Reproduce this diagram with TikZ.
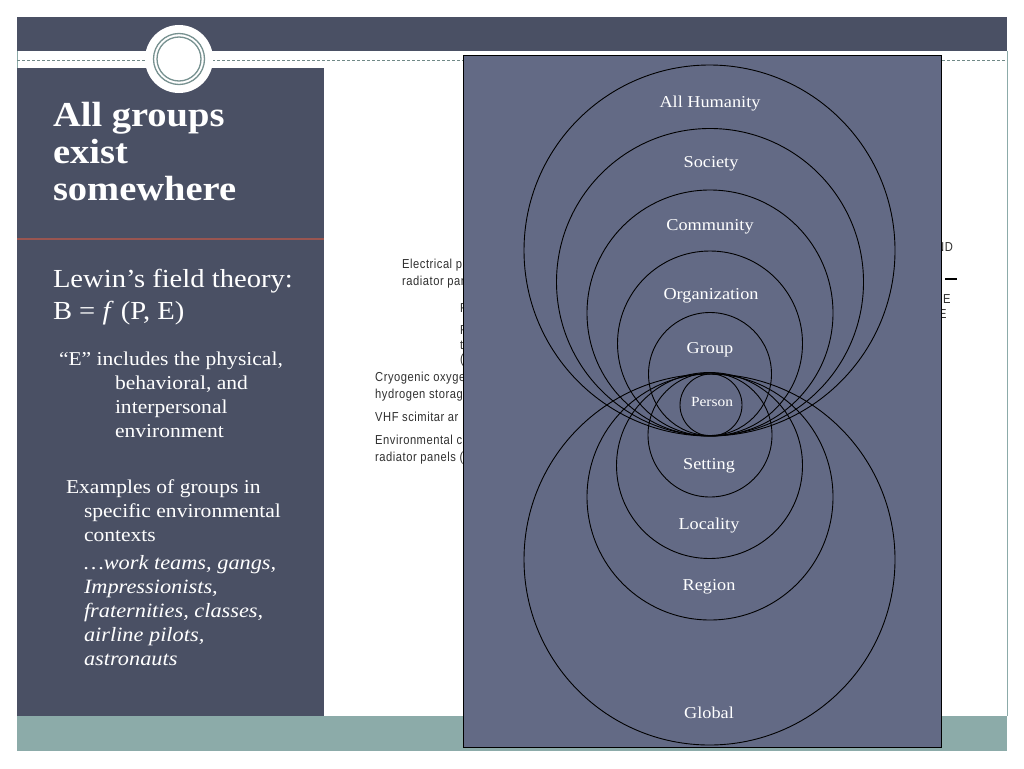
\documentclass[tikz,border=0pt]{standalone}
\usepackage{fontspec}
\setmainfont{Liberation Serif}[FakeStretch=1.1]
\newfontfamily\scanfont{Liberation Sans}[FakeStretch=0.86,LetterSpace=4]
\definecolor{darkslate}{HTML}{4A5064}
\definecolor{panelblue}{HTML}{636A85}
\definecolor{tealband}{HTML}{8CABA9}
\definecolor{redline}{HTML}{9A5550}
\definecolor{scanink}{HTML}{303030}
\newcommand{\fs}[1]{\fontsize{#1}{#1}\selectfont}
\tikzset{
  x=1pt,y=-1pt,
  band/.style={fill=darkslate,draw=none},
  ring/.style={draw=black,line width=0.9pt,fill=none},
  lefttext/.style={anchor=base west,text=white,inner sep=0pt,outer sep=0pt},
  titletext/.style={lefttext,font=\fs{35}\bfseries},
  subtext/.style={lefttext,font=\fs{26}},
  bodytext/.style={lefttext,font=\fs{19.6}},
  bodyital/.style={lefttext,font=\fs{20.3}\itshape},
  circlelabel/.style={anchor=base,text=white,inner sep=0pt,font=\fs{16.6}},
  scantext/.style={anchor=base west,text=scanink,inner sep=0pt,font=\fs{13}\scanfont},
}
\begin{document}
\begin{tikzpicture}
\useasboundingbox (0,0) rectangle (1024,768);
\fill[white] (0,0) rectangle (1024,768);
% frame
\draw[tealband,line width=1pt] (17,51) -- (17,716) (1007,51) -- (1007,716);
\fill[tealband] (17,716) rectangle (1007,751);
\fill[band] (17,17) rectangle (1007,51);
\fill[band] (17,68) rectangle (324,716);
\draw[tealband!80!black,densely dashed,line width=0.6pt] (17,60) -- (1007,60);
\draw[redline,line width=1.2pt] (17,239) -- (324,239);
% medallion
\node[circle,fill=white,minimum size=68pt,inner sep=0pt] (medal) at (179,59) {};
\node[circle,draw=tealband!85!black,line width=1.3pt,minimum size=51pt,inner sep=0pt] (ringa) at (179,59) {};
\node[circle,draw=tealband!85!black,line width=1.3pt,minimum size=44pt,inner sep=0pt] (ringb) at (179,59) {};
% left panel
\node[titletext] (t1) at (53,126) {All groups};
\node[titletext] (t2) at (53,163) {exist};
\node[titletext] (t3) at (53,200) {somewhere};
\node[subtext] (s1) at (53,287) {Lewin’s field theory:};
\node[subtext] (s2) at (53,319) {B = \textit{f} (P, E)};
\node[bodytext] (b1) at (59,365) {“E” includes the physical,};
\node[bodytext] (b2) at (115,389) {behavioral, and};
\node[bodytext] (b3) at (115,413) {interpersonal};
\node[bodytext] (b4) at (115,437) {environment};
\node[bodytext] (e1) at (66,493) {Examples of groups in};
\node[bodytext] (e2) at (84,517) {specific environmental};
\node[bodytext] (e3) at (84,541) {contexts};
\node[bodyital] (i1) at (84,569) {…work teams, gangs,};
\node[bodyital] (i2) at (84,593) {Impressionists,};
\node[bodyital] (i3) at (84,617) {fraternities, classes,};
\node[bodyital] (i4) at (84,641) {airline pilots,};
\node[bodyital] (i5) at (84,665) {astronauts};
% scanned figure remnants
\node[scantext] (c1) at (402,268) {Electrical p};
\node[scantext] (c2) at (402,285) {radiator pan};
\node[scantext] (c3) at (460,312) {F};
\node[scantext] (c4) at (460,334) {R};
\node[scantext] (c5) at (460,349) {t};
\node[scantext] (c6) at (460,363) {(};
\node[scantext] (c7) at (375,381) {Cryogenic oxyge};
\node[scantext] (c8) at (375,398) {hydrogen storage};
\node[scantext] (c9) at (375,421) {VHF scimitar ar};
\node[scantext] (c10) at (375,444) {Environmental c};
\node[scantext] (c11) at (375,461) {radiator panels (};
\node[scantext] (r1) at (936,251) {ND};
\node[scantext] (r2) at (935,264) {E};
\node[scantext] (r3) at (943,303) {E};
\node[scantext] (r4) at (939,318) {E};
\coordinate (dasha) at (945,279);
\coordinate (dashb) at (957,279);
\draw[black,line width=1.4pt] (dasha) -- (dashb);
% main panel
\node[draw=black,fill=panelblue,line width=0.9pt,minimum width=478pt,minimum height=692pt,inner sep=0pt] (panel) at (702,401) {};
% circles
\node[ring,circle,minimum size=371pt,inner sep=0pt] (humanity) at (709.5,250.5) {};
\node[ring,circle,minimum size=307pt,inner sep=0pt] (society) at (710,282) {};
\node[ring,circle,minimum size=246pt,inner sep=0pt] (community) at (710,313) {};
\node[ring,circle,minimum size=185pt,inner sep=0pt] (organization) at (710,343.5) {};
\node[ring,circle,minimum size=123pt,inner sep=0pt] (groupc) at (710,374) {};
\node[ring,circle,minimum size=62pt,inner sep=0pt] (personc) at (711,405) {};
\node[ring,circle,minimum size=124pt,inner sep=0pt] (setting) at (710,435) {};
\node[ring,circle,minimum size=186pt,inner sep=0pt] (locality) at (709.5,465.5) {};
\node[ring,circle,minimum size=246pt,inner sep=0pt] (regionc) at (710,497) {};
\node[ring,circle,minimum size=371pt,inner sep=0pt] (globalc) at (709.5,559.5) {};
% circle labels
\node[circlelabel] (l1) at (710,107) {All Humanity};
\node[circlelabel] (l2) at (711,167) {Society};
\node[circlelabel] (l3) at (710,230) {Community};
\node[circlelabel] (l4) at (711,299) {Organization};
\node[circlelabel] (l5) at (710,353) {Group};
\node[circlelabel,font=\fs{14}] (l6) at (712,406) {Person};
\node[circlelabel] (l7) at (709,469) {Setting};
\node[circlelabel] (l8) at (709,529) {Locality};
\node[circlelabel] (l9) at (709,590) {Region};
\node[circlelabel] (l10) at (709,718) {Global};
\end{tikzpicture}
\end{document}
